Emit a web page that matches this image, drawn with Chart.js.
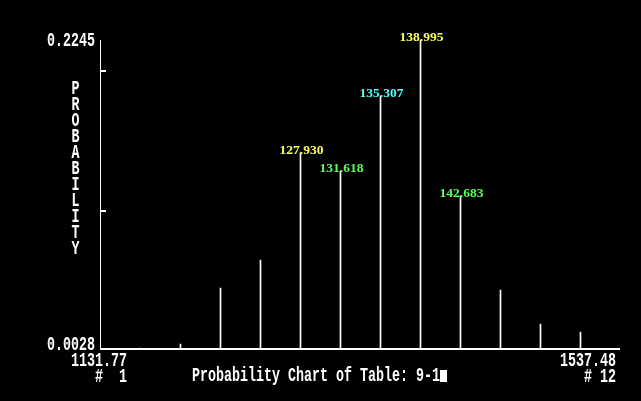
<!DOCTYPE html>
<html>
<head>
<meta charset="utf-8">
<script src="https://cdn.jsdelivr.net/npm/chart.js@4"></script>
<style>
  body { margin: 0; background: #000; }
  #probChart { display: block; }
</style>
</head>
<body>
<canvas id="probChart" width="641" height="401"></canvas>
<script>
// bin centers of table 9-1 (x axis runs # 1 .. # 12)
var binCenters = [1131.77, 1168.65, 1205.54, 1242.42, 1279.30, 1316.18,
                  1353.07, 1389.95, 1426.83, 1463.71, 1500.60, 1537.48];
// probability of each bin
var probs = [0.0028, 0.0057, 0.0460, 0.0661, 0.1432, 0.1302,
             0.1842, 0.2245, 0.1122, 0.0445, 0.0201, 0.0143];
// which bins get a value label, and the label colour
var labeledBins = [4, 5, 6, 7, 8];
var labelColors = ["#ffff55", "#55ff55", "#55ffff", "#ffff55", "#55ff55"];
// y axis range + small tick marks
var yMin = 0.0028;
var yMax = 0.2245;
var yTicks = [0.1014, 0.2022];
var axisTitle = "PROBABILITY";
var chartTitle = "Probability Chart of Table: 9-1";

var binWidth = (binCenters[binCenters.length - 1] - binCenters[0]) / (binCenters.length - 1);

var points = [];
binCenters.forEach(function(c, i) {
  points.push({ x: c, y: probs[i] });
});

var monoFont = "bold 13.33px 'Liberation Mono'";

// tall narrow text, like the old screen font
function drawTall(ctx, text, x, baseY, align) {
  ctx.save();
  ctx.translate(x, baseY);
  ctx.scale(1, 1.55);
  ctx.font = monoFont;
  ctx.textAlign = align;
  ctx.textBaseline = "alphabetic";
  ctx.fillText(text, 0, 0);
  ctx.restore();
}

var screenPlugin = {
  id: "screenPlugin",
  afterDraw: function(chart) {
    var ctx = chart.ctx;
    var ys = chart.scales.y;
    var area = chart.chartArea;
    var bottom = Math.round(ys.getPixelForValue(yMin));

    ctx.save();
    ctx.fillStyle = "#fff";
    // axes
    ctx.fillRect(100, Math.round(area.top), 1, bottom - area.top + 2);
    ctx.fillRect(100, bottom, 520, 2);
    yTicks.forEach(function(t) {
      var py = Math.round(ys.getPixelForValue(t));
      ctx.fillRect(101, py - 1, 5, 2);
    });

    // y labels
    drawTall(ctx, yMax.toFixed(4), 95, 46, "right");
    drawTall(ctx, yMin.toFixed(4), 95, 350, "right");

    // x labels
    drawTall(ctx, binCenters[0].toFixed(2), 127, 366, "right");
    drawTall(ctx, "#  1", 127, 382, "right");
    drawTall(ctx, binCenters[binCenters.length - 1].toFixed(2), 616, 366, "right");
    drawTall(ctx, "# " + binCenters.length, 616, 382, "right");

    // title + cursor block
    drawTall(ctx, chartTitle, 192, 381, "left");
    ctx.fillRect(440, 370, 7, 12);

    // vertical axis title
    for (var i = 0; i < axisTitle.length; i++) {
      drawTall(ctx, axisTitle[i], 75.5, 94 + i * 16, "center");
    }

    // value labels on the biggest bars
    var meta = chart.getDatasetMeta(0);
    ctx.font = "bold 13.5px 'Liberation Serif'";
    ctx.textAlign = "center";
    ctx.textBaseline = "middle";
    labeledBins.forEach(function(b, k) {
      var bar = meta.data[b];
      ctx.fillStyle = labelColors[k];
      ctx.fillText((binCenters[b] / 10).toFixed(3), bar.x + 1, bar.y - 2);
    });
    ctx.restore();
  }
};

var ctx = document.getElementById("probChart").getContext("2d");
var chart = new Chart(ctx, {
  type: "bar",
  data: {
    datasets: [
      {
        label: "Probability",
        data: points,
        backgroundColor: "#ffffff",
        borderWidth: 0,
        barThickness: 1
      }
    ]
  },
  options: {
    responsive: false,
    animation: false,
    events: [],
    layout: {
      padding: { left: 100.5, right: 20.5, top: 40, bottom: 53 }
    },
    plugins: {
      legend: { display: false },
      tooltip: { enabled: false }
    },
    scales: {
      x: {
        type: "linear",
        display: false,
        offset: false,
        min: binCenters[0] - binWidth,
        max: binCenters[binCenters.length - 1] + binWidth
      },
      y: {
        display: false,
        min: yMin,
        max: yMax
      }
    }
  },
  plugins: [screenPlugin]
});
</script>
</body>
</html>
